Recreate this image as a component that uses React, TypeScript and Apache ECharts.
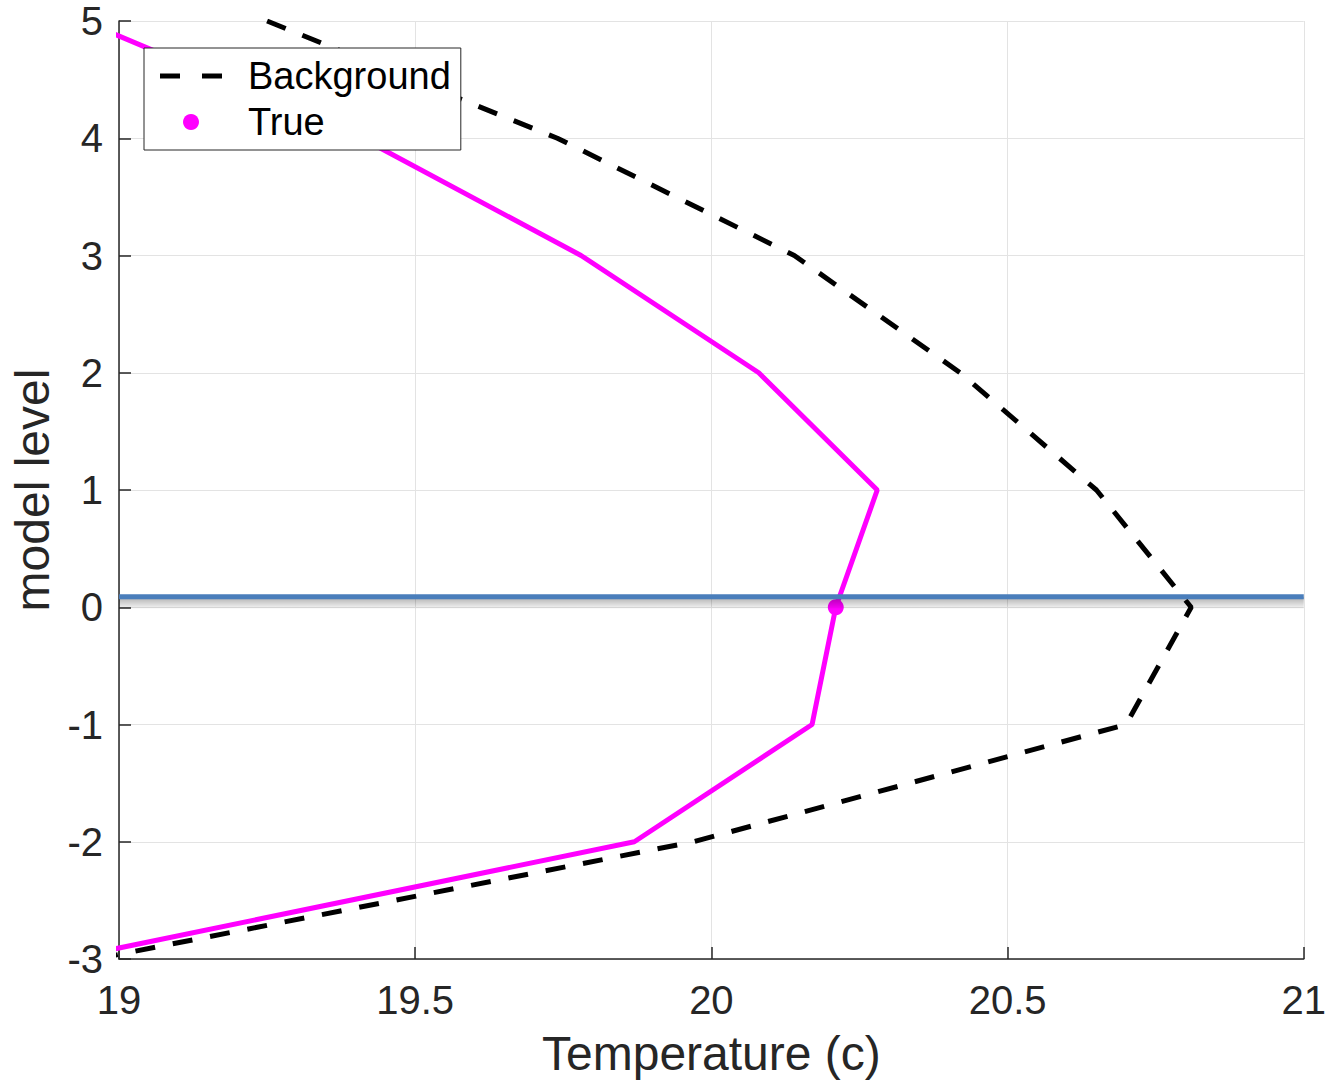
import React, { useEffect, useRef } from "react";
import * as echarts from "echarts";

// Vertical profile: model level vs temperature
const levels = [5, 4, 3, 2, 1, 0, -1, -2, -3];
const backgroundTemp = [19.25, 19.74, 20.14, 20.42, 20.65, 20.81, 20.7, 19.97, 18.96];
const trueTemp = [18.94, 19.41, 19.78, 20.08, 20.28, 20.21, 20.17, 19.87, 18.91];
const markedLevel = 0;
const obsLevel = 0.09;
const xRange = [19, 21];

const FONT = "'Liberation Sans', Arial, Helvetica, sans-serif";
const INK = "#262626";

export default function App() {
  const ref = useRef<HTMLDivElement>(null);

  useEffect(() => {
    if (!ref.current) return;
    const chart = echarts.init(ref.current, null, { renderer: "svg" });

    const bgData = levels.map((l, i) => [backgroundTemp[i], l]);
    const trueData = levels.map((l, i) =>
      l === markedLevel
        ? { value: [trueTemp[i], l], symbol: "circle", symbolSize: 16 }
        : { value: [trueTemp[i], l], symbol: "none" }
    );

    chart.setOption({
      animation: false,
      backgroundColor: "#ffffff",
      textStyle: { fontFamily: FONT },
      grid: { left: 118, right: 21, top: 21, bottom: 121 },
      legend: {
        orient: "vertical",
        left: 144,
        top: 48,
        backgroundColor: "#ffffff",
        borderColor: INK,
        borderWidth: 1,
        borderRadius: 0,
        padding: [9, 10, 9, 16],
        itemGap: 8,
        itemWidth: 62,
        itemHeight: 16,
        textStyle: { fontSize: 38, color: "#000", fontFamily: FONT, padding: [0, 0, 0, 21] },
        data: [
          { name: "Background", icon: "path://M0,0H20V5H0Z M42,0H62V5H42Z", itemStyle: { color: "#000" } },
          { name: "True", icon: "circle", itemStyle: { color: "#ff00ff" } },
        ],
      },
      xAxis: {
        type: "value",
        min: xRange[0],
        max: xRange[1],
        interval: 0.5,
        name: "Temperature (c)",
        nameLocation: "middle",
        nameGap: 70,
        nameTextStyle: { fontSize: 48, color: INK, fontFamily: FONT },
        axisLine: { show: true, onZero: false, lineStyle: { color: INK, width: 1.5 } },
        axisTick: { show: true, inside: true, length: 12, lineStyle: { color: INK, width: 1.5 } },
        axisLabel: { fontSize: 40, color: INK, margin: 21, fontFamily: FONT },
        splitLine: { show: true, lineStyle: { color: "#e3e3e3", width: 1 } },
      },
      yAxis: {
        type: "value",
        min: -3,
        max: 5,
        interval: 1,
        name: "model level",
        nameLocation: "middle",
        nameGap: 63,
        nameTextStyle: { fontSize: 48, color: INK, fontFamily: FONT },
        axisLine: { show: true, onZero: false, lineStyle: { color: INK, width: 1.5 } },
        axisTick: { show: true, inside: true, length: 12, lineStyle: { color: INK, width: 1.5 } },
        axisLabel: { fontSize: 40, color: INK, margin: 16, fontFamily: FONT },
        splitLine: { show: true, lineStyle: { color: "#e3e3e3", width: 1 } },
      },
      series: [
        {
          name: "Background",
          type: "line",
          data: bgData,
          symbol: "none",
          clip: true,
          z: 2,
          color: "#000",
          lineStyle: { color: "#000", width: 5, type: [20, 18] },
        },
        {
          name: "True",
          type: "line",
          data: trueData,
          showSymbol: true,
          clip: true,
          z: 2,
          color: "#ff00ff",
          itemStyle: { color: "#ff00ff" },
          lineStyle: { color: "#ff00ff", width: 5 },
        },
        {
          name: "Observation level",
          type: "line",
          data: [
            [xRange[0], obsLevel],
            [xRange[1], obsLevel],
          ],
          symbol: "none",
          clip: true,
          z: 4,
          color: "#4a7ebb",
          lineStyle: { color: "#4a7ebb", width: 5 },
          // soft grey shade just beneath the level line
          markArea: {
            silent: true,
            z: 3,
            itemStyle: {
              color: new echarts.graphic.LinearGradient(0, 0, 0, 1, [
                { offset: 0, color: "rgba(0,0,0,0.32)" },
                { offset: 1, color: "rgba(0,0,0,0.04)" },
              ]),
            },
            data: [[{ yAxis: obsLevel }, { yAxis: obsLevel - 0.1 }]],
          },
        },
      ],
    });

    return () => chart.dispose();
  }, []);

  return (
    <div
      ref={ref}
      style={{ position: "absolute", left: 0, top: 0, width: 1329, height: 1082 }}
    />
  );
}
